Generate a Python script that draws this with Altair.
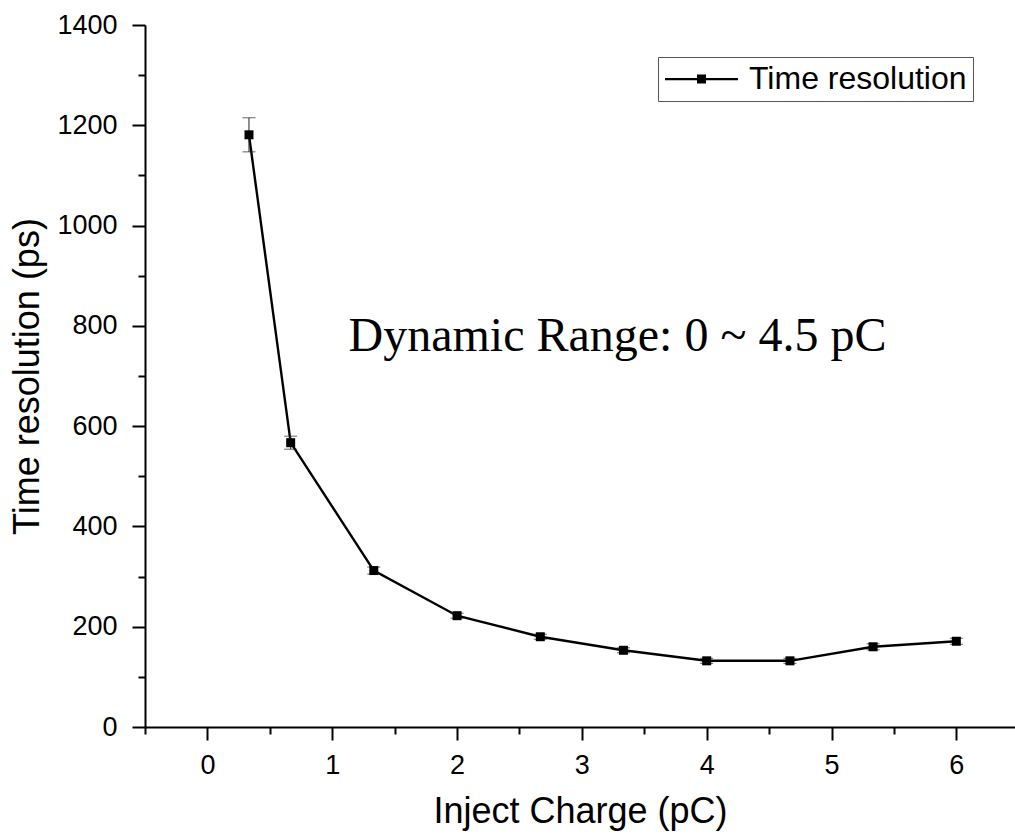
import altair as alt
import pandas as pd

# ---- data ----
charge_pc = [0.333, 0.667, 1.333, 2.0, 2.667, 3.333, 4.0, 4.667, 5.333, 6.0]
time_res_ps = [1181, 567, 312, 222, 180, 153, 132, 132, 160, 171]
time_err_ps = [34, 13, 7, 5, 5, 5, 5, 5, 6, 6]
series_name = ["Time resolution"] * len(charge_pc)

x_major = [0, 1, 2, 3, 4, 5, 6]
x_minor = [-0.5, 0.5, 1.5, 2.5, 3.5, 4.5, 5.5]
y_major = [0, 200, 400, 600, 800, 1000, 1200, 1400]
y_minor = [100, 300, 500, 700, 900, 1100, 1300]

annotation_text = ["Dynamic Range: 0 ~ 4.5 pC"]
annotation_x = [3.285]
annotation_y = [750]

df = pd.DataFrame({
    "x": charge_pc,
    "y": time_res_ps,
    "lo": [v - e for v, e in zip(time_res_ps, time_err_ps)],
    "hi": [v + e for v, e in zip(time_res_ps, time_err_ps)],
    "series": series_name,
})
ann = pd.DataFrame({"x": annotation_x, "y": annotation_y, "t": annotation_text})

FONT = "Liberation Sans"
XDOM = [-0.5, 6.47]
YDOM = [0, 1400]
xs = alt.Scale(domain=XDOM, nice=False, zero=False)
ys = alt.Scale(domain=YDOM, nice=False)

x_axis = alt.Axis(values=x_major, format="d", title="Inject Charge (pC)",
                  orient="bottom",
                  grid=False, domainColor="black", domainWidth=2,
                  tickColor="black", tickWidth=2, tickSize=13,
                  labelFont=FONT, labelFontSize=27, labelColor="black",
                  labelPadding=12, titleFont=FONT, titleFontSize=36,
                  titleFontWeight="normal", titleColor="black", titlePadding=16)
y_axis = alt.Axis(values=y_major, format="d", title="Time resolution (ps)",
                  orient="left",
                  grid=False, domainColor="black", domainWidth=2,
                  tickColor="black", tickWidth=2, tickSize=13,
                  labelFont=FONT, labelFontSize=27, labelColor="black",
                  labelPadding=15, titleFont=FONT, titleFontSize=36,
                  titleFontWeight="normal", titleColor="black", titlePadding=10)

x_minor_axis = alt.Axis(values=x_minor, labels=False, title=None, grid=False,
                        orient="bottom",
                        domain=False, tickColor="black", tickWidth=2, tickSize=7)
y_minor_axis = alt.Axis(values=y_minor, labels=False, title=None, grid=False,
                        orient="left",
                        domain=False, tickColor="black", tickWidth=2, tickSize=7)

base = alt.Chart(df)

line = base.mark_line(color="black", strokeWidth=2.4).encode(
    x=alt.X("x:Q", scale=xs, axis=x_axis),
    y=alt.Y("y:Q", scale=ys, axis=y_axis),
)

minor = base.mark_point(opacity=0).encode(
    x=alt.X("x:Q", scale=xs, axis=x_minor_axis),
    y=alt.Y("y:Q", scale=ys, axis=y_minor_axis),
)

errs = base.mark_rule(color="#222", strokeWidth=1).encode(
    x=alt.X("x:Q", scale=xs, axis=None),
    y=alt.Y("lo:Q", scale=ys, axis=None),
    y2="hi:Q",
)
cap_hi = base.mark_tick(orient="horizontal", size=13, thickness=1, color="#222").encode(
    x=alt.X("x:Q", scale=xs, axis=None),
    y=alt.Y("hi:Q", scale=ys, axis=None),
)
cap_lo = base.mark_tick(orient="horizontal", size=13, thickness=1, color="#222").encode(
    x=alt.X("x:Q", scale=xs, axis=None),
    y=alt.Y("lo:Q", scale=ys, axis=None),
)

# legend glyph: line with square marker, extending to the right of the symbol slot
legend_symbol = ("M-1,-0.075H3.867V0.075H-1Z"
                 "M1.133,-0.3H1.733V0.3H1.133Z")
points = base.mark_point(shape="square", filled=True, size=81, opacity=1).encode(
    x=alt.X("x:Q", scale=xs, axis=None),
    y=alt.Y("y:Q", scale=ys, axis=None),
    color=alt.Color("series:N", scale=alt.Scale(range=["black"]),
                    legend=alt.Legend(orient="none", legendX=513, legendY=32,
                                      title=None, symbolType=legend_symbol,
                                      symbolSize=900, symbolStrokeWidth=0,
                                      symbolOpacity=1,
                                      labelFont=FONT, labelFontSize=32,
                                      labelColor="black", labelOffset=53,
                                      labelLimit=400,
                                      strokeColor="#555", fillColor="white",
                                      padding=6, cornerRadius=0)),
)

text = alt.Chart(ann).mark_text(font="Liberation Serif", fontSize=48,
                                color="black", align="center",
                                baseline="alphabetic").encode(
    x=alt.X("x:Q", scale=xs, axis=None),
    y=alt.Y("y:Q", scale=ys, axis=None),
    text="t:N",
)

chart = alt.layer(line, minor, errs, cap_hi, cap_lo, points, text).resolve_axis(
    x="independent", y="independent"
).properties(
    width=870, height=702,
    autosize=alt.AutoSizeParams(type="none"),
    padding={"left": 145, "top": 25, "right": 0, "bottom": 111},
    background="white",
).configure_view(stroke=None)

chart.save("out.html", embed_options={"renderer": "svg", "actions": False})
